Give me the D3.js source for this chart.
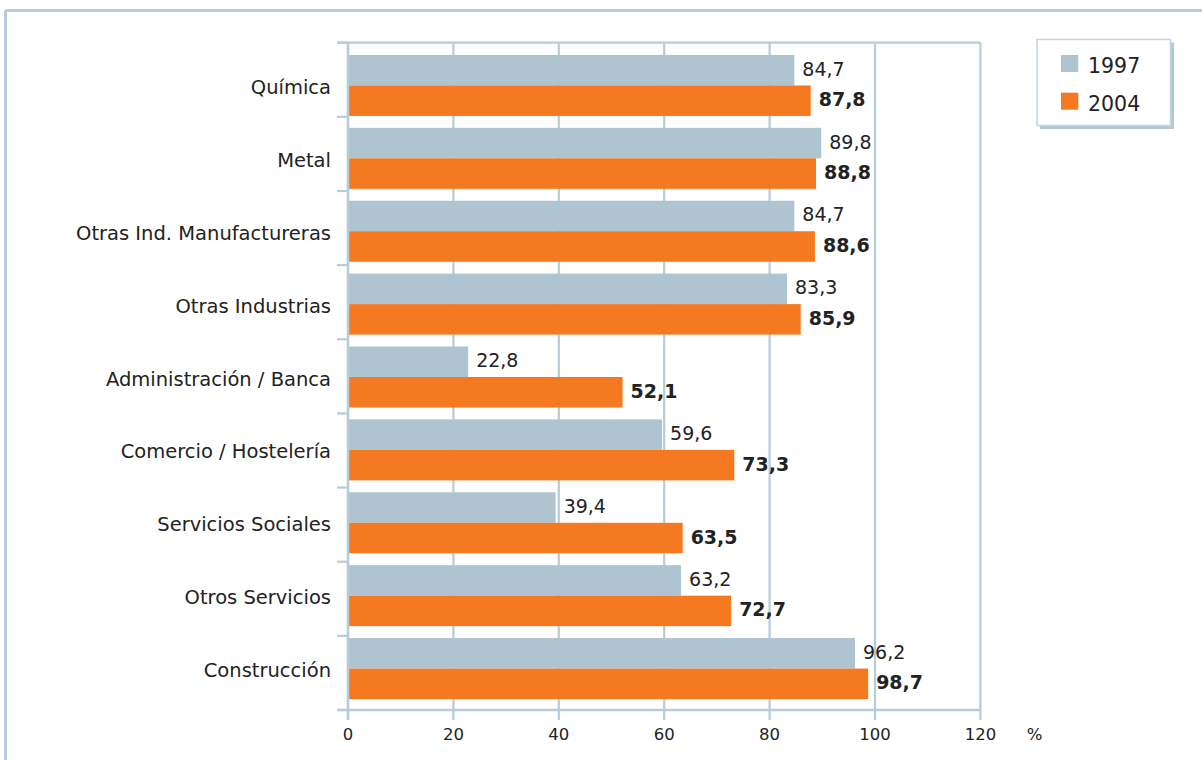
<!DOCTYPE html>
<html>
<head>
<meta charset="utf-8">
<script src="https://cdn.jsdelivr.net/npm/d3@7"></script>
<style>
  html, body { margin: 0; padding: 0; background: #fff; }
  svg { display: block; }
  text { font-family: "DejaVu Sans", Verdana, sans-serif; fill: #222; }
</style>
</head>
<body>
<svg id="chart" width="1202" height="760"></svg>
<script>
const categories = ["Química", "Metal", "Otras Ind. Manufactureras", "Otras Industrias",
  "Administración / Banca", "Comercio / Hostelería", "Servicios Sociales",
  "Otros Servicios", "Construcción"];
const seriesNames = ["1997", "2004"];
const values1997 = [84.7, 89.8, 84.7, 83.3, 22.8, 59.6, 39.4, 63.2, 96.2];
const values2004 = [87.8, 88.8, 88.6, 85.9, 52.1, 73.3, 63.5, 72.7, 98.7];
const xTicks = [0, 20, 40, 60, 80, 100, 120];
const unitLabel = "%";

const colors = { "1997": "#aec5d1", "2004": "#f47920" };
const lineColor = "#b6ccd7";
const fmt = v => d3.format(".1f")(v).replace(".", ",");

const svg = d3.select("#chart");

// outer frame (left and top edges)
svg.append("line").attr("x1", 5.5).attr("x2", 5.5).attr("y1", 10.5).attr("y2", 760)
  .attr("stroke", lineColor).attr("stroke-width", 3);
svg.append("line").attr("x1", 5.5).attr("x2", 1202).attr("y1", 10.5).attr("y2", 10.5)
  .attr("stroke", lineColor).attr("stroke-width", 3);

const plotTop = 42.7, plotBottom = 710;
const x = d3.scaleLinear().domain([0, 120]).range([348, 980.4]);
const yAxisBand = d3.scaleBand().domain(categories).range([plotTop, plotBottom]);
const yGroup = d3.scaleBand().domain(categories).range([49, 705])
  .paddingInner(0.163).paddingOuter(0.0815);
const ySub = d3.scaleBand().domain(seriesNames).range([0, yGroup.bandwidth()]);

// vertical gridlines
svg.append("g").selectAll("line").data(xTicks.filter(t => t > 0)).join("line")
  .attr("x1", d => x(d)).attr("x2", d => x(d))
  .attr("y1", plotTop).attr("y2", plotBottom)
  .attr("stroke", lineColor).attr("stroke-width", 2.2);

// top border of plot area
svg.append("line").attr("x1", 337).attr("x2", x(120)).attr("y1", plotTop).attr("y2", plotTop)
  .attr("stroke", lineColor).attr("stroke-width", 2.2);

// bars
const rows = categories.map((c, i) => ({ c, v: [values1997[i], values2004[i]] }));
const groups = svg.append("g").selectAll("g").data(rows).join("g")
  .attr("transform", d => `translate(0,${yGroup(d.c)})`);
groups.selectAll("rect").data(d => seriesNames.map((s, j) => ({ s, v: d.v[j] }))).join("rect")
  .attr("x", x(0)).attr("y", d => ySub(d.s))
  .attr("width", d => x(d.v) - x(0)).attr("height", ySub.bandwidth())
  .attr("fill", d => colors[d.s]);
groups.selectAll("text.val").data(d => seriesNames.map((s, j) => ({ s, v: d.v[j] }))).join("text")
  .attr("class", "val")
  .attr("x", d => x(d.v) + 8)
  .attr("y", d => ySub(d.s) + ySub.bandwidth() / 2 + 5.5)
  .attr("font-size", 19)
  .attr("font-weight", d => d.s === "2004" ? "bold" : "normal")
  .text(d => fmt(d.v));

// category labels
svg.append("g").selectAll("text").data(categories).join("text")
  .attr("x", 331).attr("y", d => yGroup(d) + yGroup.bandwidth() / 2 + 8.5)
  .attr("text-anchor", "end").attr("font-size", 19.5)
  .text(d => d);

// y axis line and category ticks
svg.append("line").attr("x1", x(0)).attr("x2", x(0)).attr("y1", plotTop).attr("y2", 720)
  .attr("stroke", lineColor).attr("stroke-width", 2.6);
const yTickPos = categories.map(c => yAxisBand(c)).concat([plotBottom]);
svg.append("g").selectAll("line").data(yTickPos).join("line")
  .attr("x1", 337).attr("x2", x(0)).attr("y1", d => d).attr("y2", d => d)
  .attr("stroke", lineColor).attr("stroke-width", 2.2);

// x axis line, ticks, labels
svg.append("line").attr("x1", 337).attr("x2", x(120)).attr("y1", plotBottom).attr("y2", plotBottom)
  .attr("stroke", lineColor).attr("stroke-width", 2.6);
svg.append("g").selectAll("line").data(xTicks).join("line")
  .attr("x1", d => x(d)).attr("x2", d => x(d)).attr("y1", plotBottom).attr("y2", 720)
  .attr("stroke", lineColor).attr("stroke-width", 2.2);
svg.append("g").selectAll("text").data(xTicks).join("text")
  .attr("x", d => x(d)).attr("y", 740).attr("text-anchor", "middle")
  .attr("font-size", 16.5).text(d => d);
svg.append("text").attr("x", 1034.5).attr("y", 740).attr("text-anchor", "middle")
  .attr("font-size", 16.5).text(unitLabel);

// legend
const lg = svg.append("g");
lg.append("rect").attr("x", 1040).attr("y", 42.5).attr("width", 134).attr("height", 86.5)
  .attr("fill", "#b3cad6");
lg.append("rect").attr("x", 1037).attr("y", 39.5).attr("width", 133.5).attr("height", 86)
  .attr("fill", "#fff").attr("stroke", "#c3d5de").attr("stroke-width", 1.5);
const legendY = [55, 92.7];
seriesNames.forEach((s, i) => {
  lg.append("rect").attr("x", 1061).attr("y", legendY[i]).attr("width", 17.3).attr("height", 17)
    .attr("fill", colors[s]);
  lg.append("text").attr("x", 1088).attr("y", legendY[i] + 18.3).attr("font-size", 20.5).text(s);
});
</script>
</body>
</html>
